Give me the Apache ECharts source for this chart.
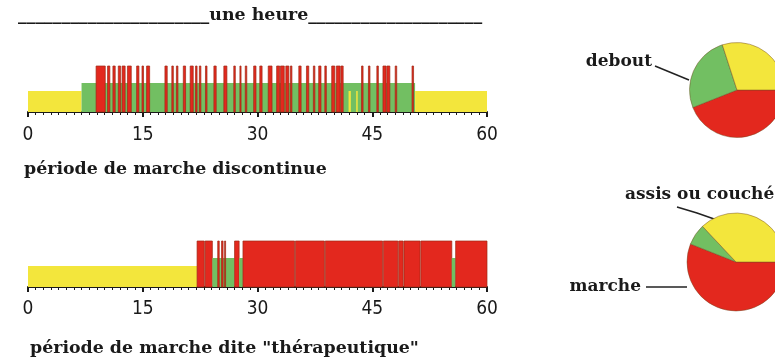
<!DOCTYPE html>
<html>
<head>
<meta charset="utf-8">
<script src="https://cdn.jsdelivr.net/npm/echarts@6/dist/echarts.min.js"></script>
<style>
  html, body { margin: 0; padding: 0; background: #ffffff; }
  #chart { width: 775px; height: 364px; }
</style>
</head>
<body>
<div id="chart"></div>
<script>
// ---- Data (minutes, state) ----
const tickValues = [0, 15, 30, 45, 60];

// Période 1 : marche discontinue  [début, fin, état]
const periode1 = [
  [0, 7, 'assis'], [7, 50.6, 'debout'], [50.6, 60, 'assis'],
  [41.9, 42.2, 'assis'], [42.9, 43.1, 'assis'],
  [8.9, 10.1, 'marche'], [10.4, 10.7, 'marche'], [11.1, 11.4, 'marche'], [11.8, 12.1, 'marche'],
  [12.3, 12.7, 'marche'], [13.0, 13.5, 'marche'], [14.2, 14.5, 'marche'], [14.9, 15.1, 'marche'],
  [15.5, 15.9, 'marche'], [17.9, 18.2, 'marche'], [18.8, 19.0, 'marche'], [19.4, 19.6, 'marche'],
  [20.3, 20.6, 'marche'], [21.2, 21.6, 'marche'], [21.9, 22.1, 'marche'], [22.4, 22.6, 'marche'],
  [23.2, 23.4, 'marche'], [24.3, 24.6, 'marche'], [25.6, 26.0, 'marche'], [26.9, 27.1, 'marche'],
  [27.7, 27.85, 'marche'], [28.4, 28.6, 'marche'], [29.5, 29.8, 'marche'], [30.3, 30.6, 'marche'],
  [31.4, 31.9, 'marche'], [32.5, 32.9, 'marche'], [33.0, 33.5, 'marche'], [33.7, 34.1, 'marche'],
  [34.3, 34.5, 'marche'], [35.4, 35.7, 'marche'], [36.4, 36.7, 'marche'], [37.3, 37.5, 'marche'],
  [38.0, 38.3, 'marche'], [38.8, 39.0, 'marche'], [39.7, 40.1, 'marche'], [40.3, 40.8, 'marche'],
  [40.9, 41.2, 'marche'], [43.6, 43.8, 'marche'], [44.5, 44.7, 'marche'], [45.6, 45.8, 'marche'],
  [46.4, 46.8, 'marche'], [46.9, 47.3, 'marche'], [48.0, 48.2, 'marche'], [50.2, 50.4, 'marche']
];

// Période 2 : marche dite "thérapeutique"
const periode2 = [
  [0, 22.1, 'assis'],
  [22.1, 23.05, 'marche'], [23.15, 24.1, 'marche'],
  [24.1, 27.0, 'debout'],
  [24.8, 25.0, 'marche'], [25.3, 25.5, 'marche'], [25.7, 25.8, 'marche'],
  [27.0, 27.6, 'marche'], [27.6, 28.1, 'debout'],
  [28.1, 34.85, 'marche'], [34.95, 38.75, 'marche'], [38.85, 46.35, 'marche'],
  [46.45, 48.35, 'marche'], [48.45, 49.05, 'marche'], [49.15, 51.25, 'marche'],
  [51.35, 55.4, 'marche'], [55.4, 55.9, 'debout'], [55.9, 60, 'marche']
];

// Répartition (%) : [marche, debout, assis ou couché]
const pieNames = ['marche', 'debout', 'assis ou couché'];
const pie1Values = [44, 26, 30];
const pie2Values = [56, 7, 37];

// ---- Styles ----
const colors = { assis: '#f3e63c', debout: '#72bf62', marche: '#e3281e' };
const edges = { assis: null, debout: null, marche: '#9e2a16' };
const levels = { assis: 21, debout: 29, marche: 46 };
const pieColors = [colors.marche, colors.debout, colors.assis];
const serif = '"DejaVu Serif", serif';

function toData(list) {
  return list.map(function (d) {
    return { value: [d[0], d[1], levels[d[2]]], itemStyle: { color: colors[d[2]] } };
  });
}

function makeRender(list) {
  return function (params, api) {
    const p0 = api.coord([api.value(0), 0]);
    const p1 = api.coord([api.value(1), api.value(2)]);
    const etat = list[params.dataIndex][2];
    const style = { fill: api.visual('color') };
    if (edges[etat]) { style.stroke = edges[etat]; style.lineWidth = 0.7; }
    return {
      type: 'rect',
      shape: { x: p0[0], y: p1[1], width: Math.max(p1[0] - p0[0], 1), height: p0[1] - p1[1] },
      style: style
    };
  };
}

function xAxis(gridIndex, margin) {
  return {
    type: 'value', gridIndex: gridIndex, min: 0, max: 60, interval: 15,
    axisLine: { show: true, onZero: false, lineStyle: { color: '#1a1a1a', width: 2 } },
    axisTick: { show: true, length: 5, lineStyle: { color: '#1a1a1a', width: 2 } },
    minorTick: { show: true, splitNumber: 15, length: 3, lineStyle: { color: '#1a1a1a', width: 1 } },
    splitLine: { show: false },
    axisLabel: {
      margin: margin, fontFamily: '"Liberation Sans Narrow", "DejaVu Sans Condensed", "DejaVu Sans", sans-serif',
      fontSize: 19, color: '#1a1a1a',
      formatter: function (v) { return tickValues.indexOf(v) >= 0 ? String(v) : ''; }
    }
  };
}

const chart = echarts.init(document.getElementById('chart'), null, { renderer: 'canvas' });

const pieLabelStyle = { fontFamily: serif, fontWeight: 'bold', fontSize: 17, color: '#1a1a1a' };
const pieBorder = { borderColor: 'rgba(110,70,30,0.45)', borderWidth: 1 };

chart.setOption({
  backgroundColor: '#ffffff',
  animation: false,
  title: [
    { text: '______________________une heure____________________', left: 13, top: 2,
      textStyle: { fontFamily: serif, fontWeight: 'bold', fontSize: 17.4, color: '#1a1a1a' } },
    { text: 'période de marche discontinue', left: 19, top: 156,
      textStyle: { fontFamily: serif, fontWeight: 'bold', fontSize: 17.4, color: '#1a1a1a' } },
    { text: 'période de marche dite "thérapeutique"', left: 25, top: 335,
      textStyle: { fontFamily: serif, fontWeight: 'bold', fontSize: 17.4, color: '#1a1a1a' } }
  ],
  grid: [
    { left: 28, right: 288, top: 62, bottom: 252 },
    { left: 28, right: 288, top: 237, bottom: 77 }
  ],
  xAxis: [xAxis(0, 14), xAxis(1, 13)],
  yAxis: [
    { type: 'value', gridIndex: 0, min: 0, max: 50, show: false },
    { type: 'value', gridIndex: 1, min: 0, max: 50, show: false }
  ],
  series: [
    { type: 'custom', xAxisIndex: 0, yAxisIndex: 0, renderItem: makeRender(periode1), data: toData(periode1) },
    { type: 'custom', xAxisIndex: 1, yAxisIndex: 1, renderItem: makeRender(periode2), data: toData(periode2) },
    {
      type: 'pie', center: [737, 90], radius: 47.5, startAngle: 0, clockwise: true,
      avoidLabelOverlap: false, color: pieColors, itemStyle: pieBorder,
      label: { show: false },
      labelLine: { show: true, lineStyle: { color: '#222', width: 1.5 } },
      data: pieNames.map(function (n, i) {
        return { name: n, value: pie1Values[i],
          label: { show: n === 'debout', position: 'outside', formatter: '{b}', ...pieLabelStyle },
          labelLine: { show: n === 'debout' } };
      }),
      labelLayout: function (p) {
        return { x: 652, y: 62, align: 'right', verticalAlign: 'middle',
          labelLinePoints: [[689, 80], [672, 73], [655, 66]] };
      }
    },
    {
      type: 'pie', center: [736, 262], radius: 49, startAngle: 0, clockwise: true,
      avoidLabelOverlap: false, color: pieColors, itemStyle: pieBorder,
      label: { show: false },
      labelLine: { show: true, lineStyle: { color: '#222', width: 1.5 } },
      data: pieNames.map(function (n, i) {
        return { name: n, value: pie2Values[i],
          label: { show: n !== 'debout', position: 'outside', formatter: '{b}', ...pieLabelStyle },
          labelLine: { show: n !== 'debout' } };
      }),
      labelLayout: function (p) {
        if (p.dataIndex === 0) {
          return { x: 641, y: 287, align: 'right', verticalAlign: 'middle',
            labelLinePoints: [[687, 287], [665, 287], [646, 287]] };
        }
        return { x: 625, y: 195, align: 'left', verticalAlign: 'middle',
          labelLinePoints: [[717, 220], [697, 213], [677, 207]] };
      }
    }
  ]
});
</script>
</body>
</html>
